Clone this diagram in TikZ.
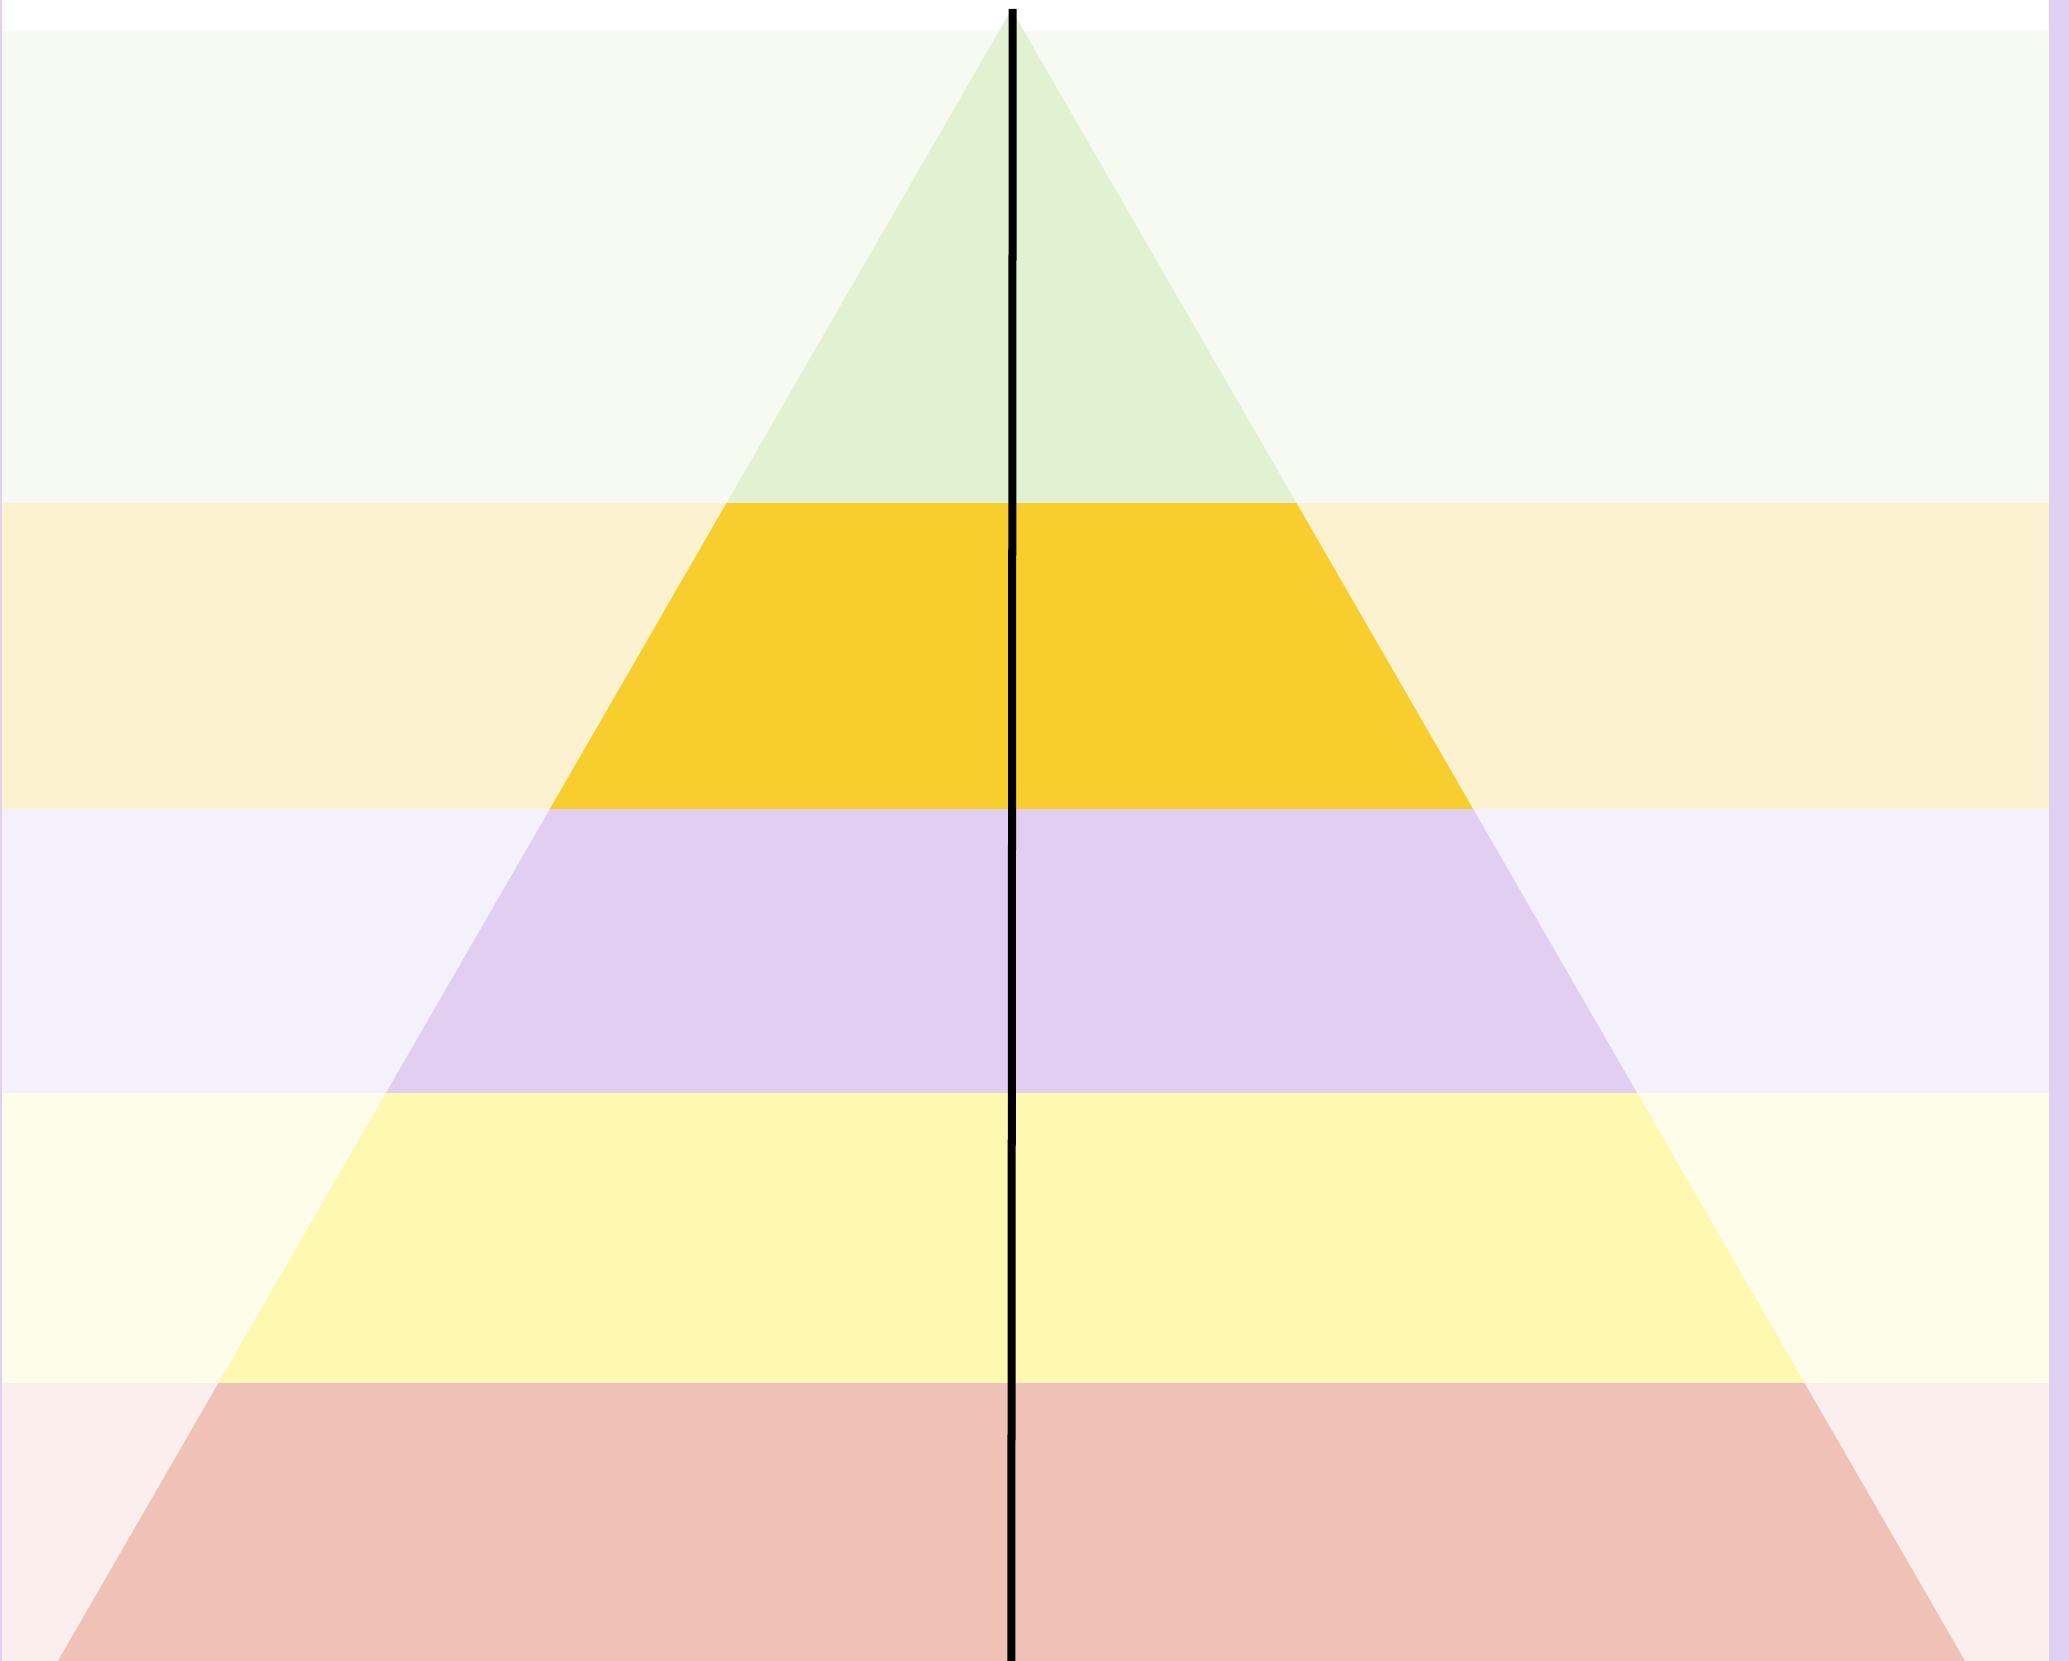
\documentclass[tikz,border=0pt]{standalone}
\usepackage{tikz}
\usetikzlibrary{calc}
\definecolor{Frame}{HTML}{E0D0F2}
\definecolor{GreenPale}{HTML}{F7FAF1}
\definecolor{GreenDeep}{HTML}{E2F1D2}
\definecolor{GoldPale}{HTML}{FCF2D0}
\definecolor{GoldDeep}{HTML}{F8CD2E}
\definecolor{LilacPale}{HTML}{F4F1FC}
\definecolor{LilacDeep}{HTML}{E0CFF1}
\definecolor{LemonPale}{HTML}{FEFDE9}
\definecolor{LemonDeep}{HTML}{FEF8B0}
\definecolor{RosePale}{HTML}{FAEFEC}
\definecolor{RoseDeep}{HTML}{F0C1B6}
\tikzset{frame/.style={fill=Frame},axisline/.style={draw=black,line width=.08cm}}
\begin{document}
\begin{tikzpicture}[x=.01cm,y=-.01cm]
        \useasboundingbox (0,0) rectangle (2069,1661);
        \fill[white] (0,0) rectangle (2069,1661);
        \coordinate (apex) at (1011.5,9.5);
        \coordinate (baseL) at (58,1661);
        \coordinate (baseR) at (1965,1661);
        \fill[frame] (0,0) rectangle (2,1661);
        \fill[frame] (2049,0) rectangle (2069,1661);
        % pale bands across the width
        \foreach \t/\b/\pale in {31/503.5/GreenPale,503.5/808.5/GoldPale,808.5/1092.5/LilacPale,1092.5/1383/LemonPale,1383/1661/RosePale}
          \fill[\pale] (2,\t) rectangle (2049,\b);
        % pyramid layers
        \begin{scope}
          \clip (apex) -- (baseL) -- (baseR) -- cycle;
          \foreach \t/\b/\deep in {0/503.5/GreenDeep,503.5/808.5/GoldDeep,808.5/1092.5/LilacDeep,1092.5/1383/LemonDeep,1383/1661/RoseDeep}
            \fill[\deep] (2,\t) rectangle (2049,\b);
        \end{scope}
        \coordinate (axtop) at (1012.7,9);
        \coordinate (axbot) at (1011.3,1661);
        \draw[axisline] (axtop) -- (axbot);
      \end{tikzpicture}
\end{document}
